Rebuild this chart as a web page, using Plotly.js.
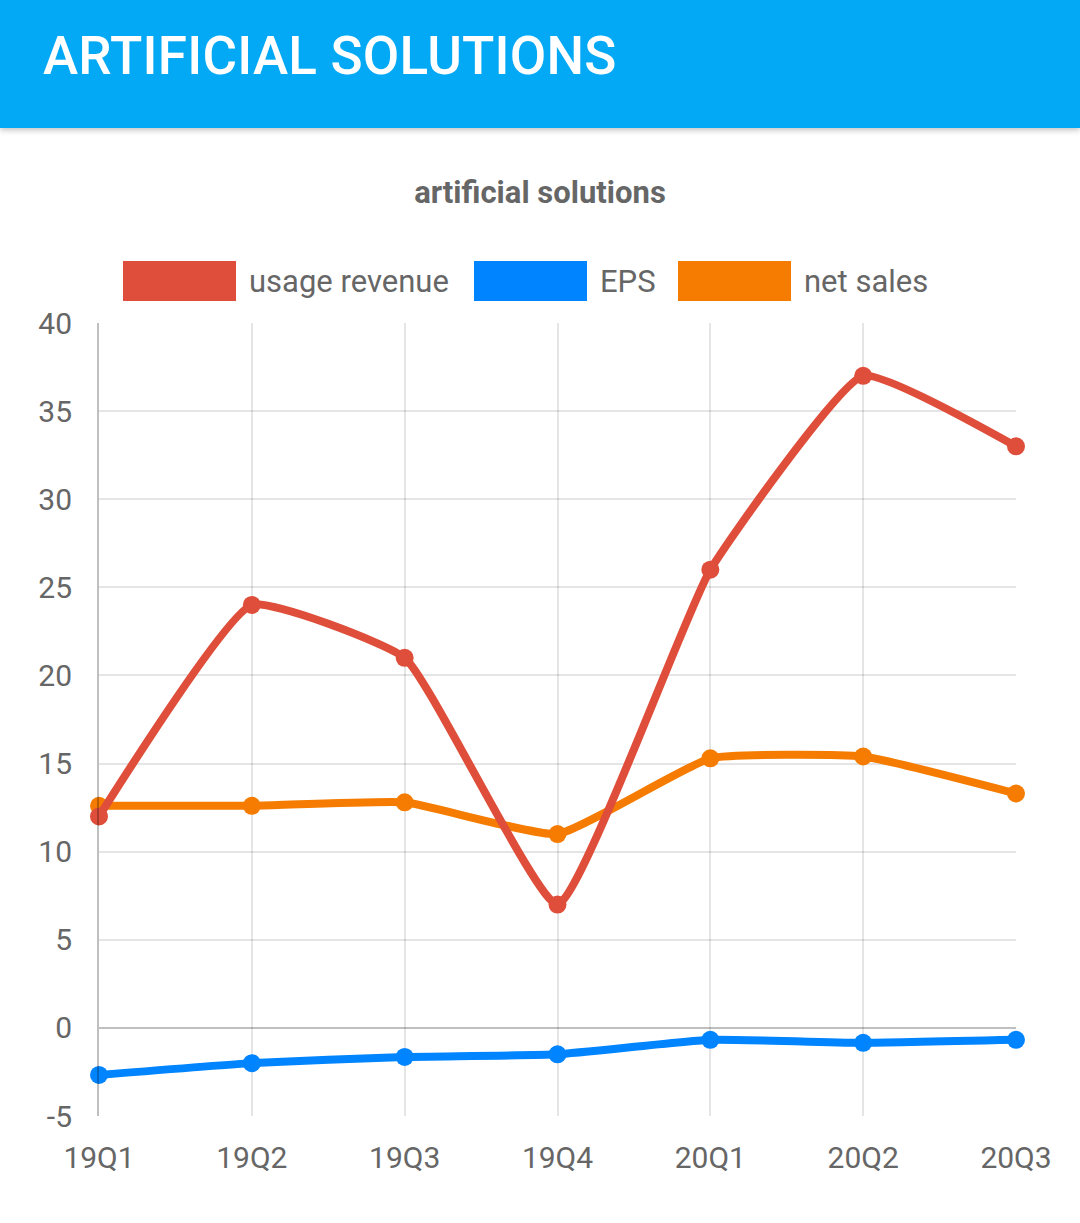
<!DOCTYPE html>
<html>
<head>
<meta charset="utf-8">
<script src="https://cdn.plot.ly/plotly-3.0.1.min.js"></script>
<style>
  html, body { margin: 0; padding: 0; background: #fff; width: 1080px; height: 1223px; overflow: hidden; }
  #header {
    position: absolute; left: 0; top: 0; width: 1080px; height: 128px;
    background: #03A9F4; box-shadow: 0 2px 6px rgba(0,0,0,0.25); z-index: 2;
  }
  #header h1 {
    margin: 0; position: absolute; left: 43px; top: 24px;
    font-family: Roboto, sans-serif; font-weight: 500; font-size: 53px;
    color: #fff; letter-spacing: 0.2px; line-height: 64px;
  }
  #chart { position: absolute; left: 0; top: 128px; width: 1080px; height: 1095px; }
</style>
</head>
<body>
<div id="header"><h1>ARTIFICIAL SOLUTIONS</h1></div>
<div id="chart"></div>
<script>
// ── Data ────────────────────────────────────────────────────────────
const quarters = ["19Q1", "19Q2", "19Q3", "19Q4", "20Q1", "20Q2", "20Q3"];
const usageRevenue = [12, 24, 21, 7, 26, 37, 33];
const eps = [-2.67, -2.0, -1.65, -1.5, -0.68, -0.85, -0.68];
const netSales = [12.6, 12.6, 12.8, 11.0, 15.3, 15.4, 13.3];

const yTickVals = [-5, 0, 5, 10, 15, 20, 25, 30, 35, 40];
const yTickText = ["-5", "0", "5", "10", "15", "20", "25", "30", "35", "40"];

const seriesNames = ["usage revenue", "EPS", "net sales"];
const seriesColors = ["#DF4E3A", "#0084FF", "#F57C00"];
const seriesData = [usageRevenue, eps, netSales];

// ── Layout helpers (page pixels -> paper coords) ────────────────────
const PLOT_L = 99, PLOT_R = 1016, PLOT_T = 323, PLOT_B = 1116;
const px = x => (x - PLOT_L) / (PLOT_R - PLOT_L);
const py = y => (PLOT_B - y) / (PLOT_B - PLOT_T);

const FONT = "Roboto, sans-serif";
const GREY = "#666";

// Draw order: first series on top (like Chart.js), so push in reverse
const traces = [];
for (let i = seriesData.length - 1; i >= 0; i--) {
  traces.push({
    x: quarters,
    y: seriesData[i],
    type: "scatter",
    mode: "lines+markers",
    name: seriesNames[i],
    line: { color: seriesColors[i], width: 8, shape: "spline", smoothing: 0.4 },
    marker: { color: seriesColors[i], size: 18 },
    cliponaxis: false,
    showlegend: false,
  });
}

// Custom legend: filled boxes + labels
const legendBoxX = [123, 474, 678];
const shapes = [];
const annotations = [];
seriesNames.forEach((name, i) => {
  const x0 = legendBoxX[i];
  shapes.push({
    type: "rect", xref: "paper", yref: "paper",
    x0: px(x0), x1: px(x0 + 113), y0: py(301), y1: py(261),
    fillcolor: seriesColors[i], line: { width: 0 },
  });
  annotations.push({
    xref: "paper", yref: "paper",
    x: px(x0 + 124), y: py(281),
    xanchor: "left", yanchor: "middle",
    text: name, showarrow: false,
    font: { family: FONT, size: 31, color: GREY },
  });
});

const layout = {
  width: 1080,
  height: 1095,
  margin: { l: PLOT_L, r: 1080 - PLOT_R, t: PLOT_T - 128, b: 1223 - PLOT_B },
  paper_bgcolor: "#fff",
  plot_bgcolor: "#fff",
  showlegend: false,
  title: {
    text: "<b>artificial solutions</b>",
    x: 0.5, xanchor: "center",
    y: 1 - 64 / 1095, yanchor: "middle", yref: "container",
    font: { family: FONT, size: 31, color: GREY },
  },
  xaxis: {
    type: "category",
    range: [0, quarters.length - 1],
    showgrid: true,
    gridcolor: "rgba(0,0,0,0.1)",
    gridwidth: 2,
    zeroline: false,
    showline: false,
    ticks: "",
    ticklabelstandoff: 21,
    tickfont: { family: FONT, size: 30, color: GREY },
    fixedrange: true,
  },
  yaxis: {
    range: [-5, 40],
    tickmode: "array",
    tickvals: yTickVals,
    ticktext: yTickText,
    showgrid: true,
    gridcolor: "rgba(0,0,0,0.1)",
    gridwidth: 2,
    zeroline: true,
    zerolinecolor: "rgba(0,0,0,0.25)",
    zerolinewidth: 2,
    showline: true,
    linecolor: "rgba(0,0,0,0.25)",
    linewidth: 2,
    ticks: "",
    ticklabelstandoff: 19,
    tickfont: { family: FONT, size: 30, color: GREY },
    fixedrange: true,
  },
  shapes,
  annotations,
};

Plotly.newPlot("chart", traces, layout, { displayModeBar: false, staticPlot: true });
</script>
</body>
</html>
